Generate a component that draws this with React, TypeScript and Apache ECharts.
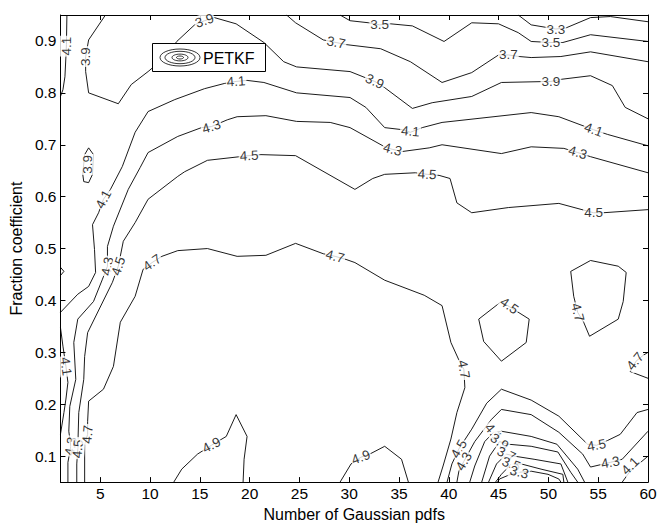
import React, { useEffect, useRef } from "react";
import * as echarts from "echarts";

const FONT = "'Liberation Sans', Arial, Helvetica, sans-serif";

const xTicks = [5, 10, 15, 20, 25, 30, 35, 40, 45, 50, 55, 60];
const yTicks = [0.1, 0.2, 0.3, 0.4, 0.5, 0.6, 0.7, 0.8, 0.9];

// contour polylines, [x, y] in data units
const c33Top = [[46.97,0.95],[48.27,0.931],[50.75,0.923],[51.75,0.925],[54.23,0.945],[56.22,0.947],[60,0.937]];
const c35Top = [[29.08,0.95],[30.08,0.939],[31.96,0.935],[33.06,0.931],[34.15,0.933],[36.34,0.929],[39.52,0.899],[42.3,0.935],[44.99,0.933],[46.97,0.916],[48.27,0.899],[50.25,0.897],[51.45,0.897],[54.23,0.912],[60,0.899]];
const c37Top = [[23.71,0.95],[24.61,0.935],[27.39,0.902],[28.68,0.897],[29.68,0.893],[33.16,0.885],[36.14,0.86],[39.32,0.82],[42.3,0.839],[44.99,0.873],[45.98,0.873],[47.07,0.87],[48.27,0.868],[51.25,0.87],[54.23,0.879],[60,0.86]];
const c39Top = [[5.52,0.95],[3.83,0.902],[3.53,0.87],[3.53,0.841],[3.83,0.8],[6.81,0.779],[8.11,0.816],[9.8,0.841],[11.49,0.868],[12.68,0.899],[14.47,0.931],[15.46,0.939],[16.46,0.945],[18.64,0.933],[21.43,0.897],[23.42,0.86],[24.71,0.85],[30.08,0.841],[32.56,0.822],[33.56,0.81],[36.34,0.77],[38.33,0.781],[42.3,0.793],[45.28,0.82],[50.25,0.822],[51.25,0.826],[54.23,0.833],[56.42,0.814],[57.71,0.772],[60,0.75]];
const c39Loop = [[3.83,0.694],[4.32,0.681],[4.22,0.643],[3.83,0.627],[3.34,0.629],[3.24,0.643],[3.43,0.681],[3.83,0.694]];
const c41TopLeft = [[1.65,0.95],[1.6,0.893],[1.55,0.87],[1.45,0.831],[1.25,0.806],[1,0.793]];
const c41Main = [[60,0.698],[55.92,0.72],[54.53,0.729],[51.05,0.754],[48.27,0.762],[39.32,0.743],[37.33,0.733],[36.14,0.724],[35.34,0.729],[33.56,0.733],[31.67,0.772],[30.08,0.791],[24.71,0.8],[21.43,0.82],[19.74,0.824],[18.64,0.822],[17.45,0.818],[15.46,0.808],[12.48,0.787],[9.8,0.764],[8.5,0.724],[7.21,0.658],[6.02,0.614],[5.32,0.595],[4.83,0.569],[4.22,0.546],[4.42,0.498],[4.53,0.454],[3.83,0.427],[2.74,0.412],[1,0.377]];
const c41LeftLow = [[1,0.348],[1.25,0.312],[1.55,0.273],[1.75,0.242],[1.55,0.21],[1.35,0.184],[1,0.142]];
const c41Right = [[57.41,0.05],[58.21,0.071],[60,0.1]];
const c41Valley = [[42.1,0.05],[42.6,0.081],[43.6,0.128],[44.49,0.146],[45.28,0.148],[48.27,0.138],[50.85,0.123],[52.94,0.075],[53.63,0.05]];
const c43Left = [[1.75,0.05],[1.75,0.088],[2.04,0.119],[1.84,0.148],[1.94,0.196],[2.54,0.248],[2.34,0.319],[2.74,0.364],[4.32,0.398],[5.22,0.441],[5.72,0.466],[5.72,0.504],[6.32,0.543],[7.81,0.614],[9.0,0.656],[9.8,0.685],[12.78,0.716],[15.16,0.733],[16.16,0.735],[17.75,0.748],[18.74,0.754],[21.63,0.756],[24.71,0.745],[28.09,0.743],[30.08,0.733],[33.56,0.696],[34.35,0.691],[35.34,0.687],[38.03,0.694],[39.32,0.7],[45.28,0.683],[48.27,0.696],[51.55,0.693],[52.94,0.685],[54.23,0.677],[60,0.646]];
const c43Valley = [[40.81,0.05],[41.01,0.071],[41.51,0.09],[42.6,0.128],[44.29,0.171],[45.28,0.19],[48.27,0.18],[51.05,0.146],[53.44,0.104],[54.23,0.079],[56.22,0.088],[57.41,0.094],[60,0.148]];
const c43Wedge = [[1,0.464],[1.35,0.456],[1,0.448]];
const c45Main = [[2.64,0.05],[2.64,0.085],[2.74,0.114],[2.84,0.184],[3.34,0.248],[3.43,0.292],[3.73,0.338],[6.22,0.435],[6.81,0.466],[7.31,0.514],[8.5,0.55],[9.8,0.595],[12.78,0.639],[13.47,0.648],[15.76,0.67],[19.94,0.679],[21.13,0.681],[24.61,0.679],[30.57,0.614],[32.36,0.635],[33.56,0.643],[36.64,0.646],[37.83,0.643],[39.02,0.641],[40.12,0.635],[40.81,0.588],[42.3,0.569],[45.98,0.579],[51.05,0.587],[54.53,0.569],[55.52,0.569],[60,0.575]];
const c45Valley = [[39.82,0.05],[40.31,0.085],[41.01,0.114],[42.3,0.152],[43.8,0.202],[45.28,0.229],[48.27,0.208],[51.05,0.177],[53.93,0.123],[54.83,0.121],[55.92,0.13],[57.21,0.142],[58.9,0.184],[60,0.19]];
const c45Loop = [[43.0,0.364],[45.28,0.398],[46.08,0.388],[48.07,0.364],[47.77,0.319],[45.28,0.283],[43.5,0.321],[43.0,0.364]];
const c47Main = [[3.43,0.05],[3.43,0.123],[3.73,0.142],[3.73,0.167],[3.83,0.206],[5.32,0.229],[6.32,0.273],[7.01,0.358],[8.5,0.408],[9.3,0.46],[10.2,0.473],[11.19,0.485],[12.78,0.496],[15.76,0.5],[18.74,0.485],[21.63,0.487],[24.61,0.51],[27.39,0.49],[28.58,0.485],[29.68,0.479],[30.57,0.473],[33.56,0.439],[37.53,0.41],[39.32,0.39],[40.21,0.319],[41.11,0.281],[41.51,0.267],[41.61,0.232],[40.81,0.184],[40.21,0.133],[39.42,0.081],[38.92,0.05]];
const c47Loop = [[52.24,0.456],[54.23,0.477],[57.01,0.466],[57.81,0.454],[57.51,0.398],[57.01,0.364],[54.13,0.331],[53.54,0.358],[52.94,0.377],[52.54,0.408],[52.24,0.456]];
const c47Right = [[60,0.3],[59.5,0.294],[58.8,0.283],[58.21,0.263],[60,0.25]];
const c49a = [[12.38,0.05],[13.18,0.075],[14.77,0.104],[16.16,0.121],[17.65,0.138],[18.64,0.18],[19.74,0.138],[19.44,0.094],[19.34,0.05]];
const c49b = [[29.08,0.05],[30.18,0.085],[31.17,0.098],[32.06,0.104],[33.56,0.119],[35.25,0.094],[35.94,0.05]];
const c39Valley = [[43.3,0.05],[44.09,0.1],[45.09,0.128],[45.98,0.123],[48.27,0.119],[50.95,0.108],[52.24,0.069],[52.94,0.05]];
const c37Valley = [[43.99,0.05],[44.79,0.085],[45.78,0.104],[46.58,0.1],[48.56,0.094],[51.25,0.085],[51.95,0.05]];
const c35Valley = [[44.69,0.05],[45.28,0.065],[46.28,0.085],[47.27,0.085],[49.26,0.075],[51.45,0.065],[51.55,0.05]];
const c33Valley = [[44.89,0.05],[45.09,0.056],[46.08,0.064],[47.07,0.069],[48.27,0.071],[49.96,0.065],[51.05,0.056],[51.25,0.05]];

const contours = [
  c33Top, c35Top, c37Top, c39Top, c39Loop, c41TopLeft, c41Main, c41LeftLow, c41Right, c41Valley,
  c43Left, c43Valley, c43Wedge, c45Main, c45Valley, c45Loop, c47Main, c47Loop, c47Right,
  c49a, c49b, c39Valley, c37Valley, c35Valley, c33Valley,
];

// inline contour labels: x, y, text, rotation (deg)
const contourLabels: [number, number, string, number][] = [
  [50.75, 0.923, "3.3", 0],
  [33.06, 0.931, "3.5", 0],
  [50.25, 0.897, "3.5", 0],
  [28.68, 0.897, "3.7", -12],
  [45.98, 0.873, "3.7", 0],
  [3.53, 0.87, "3.9", 90],
  [15.46, 0.939, "3.9", 19],
  [32.56, 0.822, "3.9", -25],
  [50.25, 0.822, "3.9", 0],
  [3.73, 0.662, "3.9", 90],
  [1.6, 0.89, "4.1", 90],
  [18.64, 0.822, "4.1", 4],
  [36.14, 0.726, "4.1", -5],
  [54.53, 0.729, "4.1", -20],
  [5.32, 0.595, "4.1", 62],
  [1.55, 0.273, "4.1", -82],
  [16.16, 0.735, "4.3", 17],
  [34.35, 0.691, "4.3", -15],
  [52.94, 0.685, "4.3", -16],
  [5.72, 0.466, "4.3", 80],
  [2.04, 0.119, "4.3", 80],
  [19.94, 0.679, "4.5", 3],
  [37.83, 0.643, "4.5", -3],
  [54.53, 0.569, "4.5", 0],
  [6.81, 0.466, "4.5", 72],
  [2.74, 0.114, "4.5", 85],
  [46.08, 0.39, "4.5", -35],
  [41.01, 0.114, "4.5", 60],
  [41.51, 0.09, "4.3", 60],
  [44.49, 0.146, "4.1", -50],
  [45.09, 0.128, "3.9", -35],
  [45.78, 0.104, "3.7", -25],
  [46.28, 0.085, "3.5", -20],
  [47.07, 0.069, "3.3", -15],
  [54.83, 0.121, "4.5", 10],
  [56.22, 0.088, "4.3", 10],
  [58.21, 0.081, "4.1", 45],
  [10.2, 0.473, "4.7", 35],
  [28.58, 0.485, "4.7", -15],
  [41.51, 0.267, "4.7", -80],
  [3.73, 0.142, "4.7", 85],
  [52.94, 0.377, "4.7", -75],
  [58.7, 0.283, "4.7", 50],
  [16.16, 0.121, "4.9", 28],
  [31.17, 0.098, "4.9", 20],
];

const xTitle = "Number of Gaussian pdfs";
const yTitle = "Fraction coefficient";
const legendText = "PETKF";

export default function App() {
  const ref = useRef<HTMLDivElement>(null);
  useEffect(() => {
    if (!ref.current) return;
    const chart = echarts.init(ref.current, null, { renderer: "svg" });
    const axisLine = { show: true, onZero: false, lineStyle: { color: "#000", width: 1 } };
    const tickStyle = { color: "#000", width: 1 };
    const option: any = {
      animation: false,
      backgroundColor: "#fff",
      grid: { left: 54, right: 15, top: 15, bottom: 43, containLabel: false },
      xAxis: [
        {
          type: "value", min: 1, max: 60, position: "bottom",
          axisLine,
          axisTick: { show: true, inside: true, length: 5, customValues: xTicks, lineStyle: tickStyle },
          axisLabel: { show: true, customValues: xTicks, color: "#000", fontSize: 15.5, margin: 3, fontFamily: FONT },
          splitLine: { show: false },
          name: xTitle, nameLocation: "middle", nameGap: 22,
          nameTextStyle: { color: "#000", fontSize: 16, fontFamily: FONT },
        },
        {
          type: "value", min: 1, max: 60, position: "top",
          axisLine,
          axisTick: { show: true, inside: true, length: 5, customValues: xTicks, lineStyle: tickStyle },
          axisLabel: { show: false },
          splitLine: { show: false },
        },
      ],
      yAxis: [
        {
          type: "value", min: 0.05, max: 0.95, position: "left",
          axisLine,
          axisTick: { show: true, inside: true, length: 5, customValues: yTicks, lineStyle: tickStyle },
          axisLabel: {
            show: true, customValues: yTicks, color: "#000", fontSize: 15.5, margin: 4, fontFamily: FONT,
            formatter: (v: number) => v.toFixed(1),
          },
          splitLine: { show: false },
          name: yTitle, nameLocation: "middle", nameGap: 32, nameRotate: 90,
          nameTextStyle: { color: "#000", fontSize: 16, fontFamily: FONT },
        },
        {
          type: "value", min: 0.05, max: 0.95, position: "right",
          axisLine,
          axisTick: { show: true, inside: true, length: 5, customValues: yTicks, lineStyle: tickStyle },
          axisLabel: { show: false },
          splitLine: { show: false },
        },
      ],
      series: [
        ...contours.map((d) => ({
          type: "line",
          data: d,
          xAxisIndex: 0,
          yAxisIndex: 0,
          symbol: "none",
          showSymbol: false,
          silent: true,
          lineStyle: { color: "#000", width: 0.9 },
          z: 2,
        })),
        {
          type: "scatter",
          xAxisIndex: 0,
          yAxisIndex: 0,
          symbolSize: 1,
          silent: true,
          itemStyle: { color: "rgba(0,0,0,0)" },
          z: 5,
          label: {
            show: true, position: "inside", color: "#000", fontSize: 13.5, fontFamily: FONT,
            backgroundColor: "#fff", padding: [0, 1], textBorderWidth: 0, textBorderColor: "transparent",
          },
          data: contourLabels.map(([x, y, t, r]) => ({
            value: [x, y],
            label: { show: true, formatter: t, rotate: r, color: "#000", textBorderWidth: 0 },
          })),
        },
      ],
      graphic: [
        { type: "rect", z: 100, shape: { x: 152.5, y: 43.5, width: 113, height: 28 }, style: { fill: "#fff", stroke: "#000", lineWidth: 1 } },
        { type: "ellipse", z: 101, shape: { cx: 180, cy: 57.5, rx: 20, ry: 8.5 }, style: { fill: "none", stroke: "#000", lineWidth: 0.8 } },
        { type: "ellipse", z: 101, shape: { cx: 180, cy: 57.5, rx: 15, ry: 6.2 }, style: { fill: "none", stroke: "#000", lineWidth: 0.8 } },
        { type: "ellipse", z: 101, shape: { cx: 180, cy: 57.5, rx: 8, ry: 3.4 }, style: { fill: "none", stroke: "#000", lineWidth: 0.8 } },
        { type: "ellipse", z: 101, shape: { cx: 180, cy: 57.5, rx: 3.5, ry: 1.5 }, style: { fill: "none", stroke: "#000", lineWidth: 0.8 } },
        { type: "text", z: 101, x: 203, y: 58, style: { text: legendText, fontSize: 16, fill: "#000", fontFamily: FONT, verticalAlign: "middle", align: "left" } },
      ],
    };
    chart.setOption(option);
    return () => chart.dispose();
  }, []);
  return (
    <div
      ref={ref}
      style={{ position: "fixed", left: 0, top: 0, width: 663, height: 527, background: "#fff" }}
    />
  );
}
